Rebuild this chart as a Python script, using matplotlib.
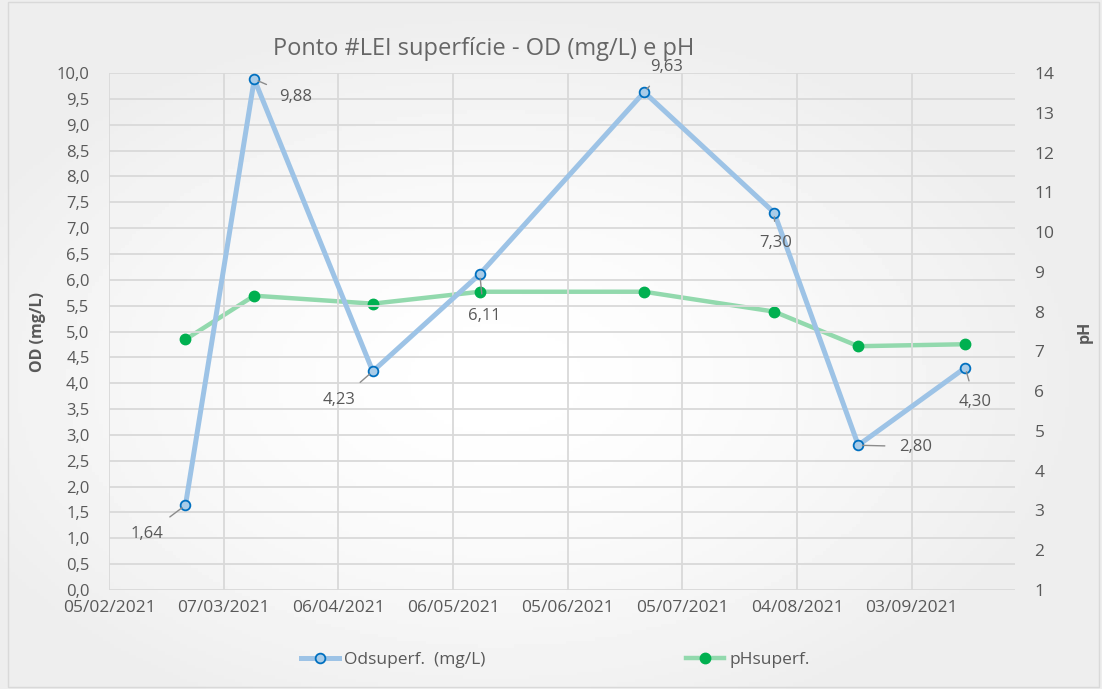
import numpy as np
import pandas as pd
import matplotlib
matplotlib.use('Agg')
import matplotlib.pyplot as plt
import matplotlib.dates as mdates
from matplotlib.lines import Line2D
from matplotlib.patches import Rectangle
from matplotlib.ticker import FixedLocator, FuncFormatter

plt.rcParams['font.family'] = ['Open Sans', 'DejaVu Sans']

# Data
dates = pd.to_datetime(['2021-02-25', '2021-03-15', '2021-04-15', '2021-05-13',
                        '2021-06-25', '2021-07-29', '2021-08-20', '2021-09-17'])
od = [1.64, 9.88, 4.23, 6.11, 9.63, 7.30, 2.80, 4.30]
ph = [7.3, 8.4, 8.2, 8.5, 8.5, 8.0, 7.13, 7.18]
od_labels = ['1,64', '9,88', '4,23', '6,11', '9,63', '7,30', '2,80', '4,30']
# label offsets in points (dx, dy)
lab_off = [(-28, -21), (30, -13), (-24, -21), (3, -30), (16, 18), (1, -22), (41, -1), (7, -25)]
tick_dates = pd.date_range('2021-02-05', periods=8, freq='30D')

gray = '#595959'
od_color = '#9dc3e6'
ph_color = '#92d9ad'

fig = plt.figure(figsize=(11.02, 6.89), dpi=100)

# background gradient
bg = fig.add_axes([0, 0, 1, 1], zorder=-2)
yy, xx = np.mgrid[0:1:200j, 0:1:300j]
r = np.sqrt(((xx - 0.45) / 0.9) ** 2 + ((yy - 0.55) / 0.9) ** 2)
grad = 1 - 0.07 * np.clip(r / 0.6, 0, 1) ** 1.5
bg.imshow(grad, cmap='gray', vmin=0, vmax=1, aspect='auto', extent=[0, 1, 0, 1])
bg.axis('off')
fig.patches.append(Rectangle((0.007, 0.003), 0.99, 0.994, transform=fig.transFigure,
                             fill=False, edgecolor='#d9d9d9', linewidth=1))

ax = fig.add_axes([109/1102, 1 - 590/689, (1015-109)/1102, (590-73)/689])
ax.set_facecolor('none')
ax2 = ax.twinx()

ax.plot(dates, od, color=od_color, lw=3.6, marker='o', ms=7, mfc='#a9cce8',
        mec='#0070c0', mew=1.3, zorder=3)
ax2.plot(dates, ph, color=ph_color, lw=3.2, marker='o', ms=7.5, mfc='#00b050',
         mec='#00b050', zorder=2)
ax.set_zorder(ax2.get_zorder() + 1)
ax.patch.set_visible(False)

for d, v, t, (dx, dy) in zip(dates, od, od_labels, lab_off):
    ax.annotate(t, xy=(d, v), xytext=(dx, dy), textcoords='offset points',
                ha='center', va='center', fontsize=12, color=gray,
                arrowprops=dict(arrowstyle='-', color='#8c8c8c', lw=1,
                                shrinkA=8, shrinkB=3))

ax.set_xlim(pd.Timestamp('2021-02-05'), pd.Timestamp('2021-09-30'))
ax.set_ylim(0, 10)
ax.yaxis.set_major_locator(FixedLocator(np.arange(0, 10.01, 0.5)))
ax.yaxis.set_major_formatter(FuncFormatter(lambda v, p: f'{v:.1f}'.replace('.', ',')))
ax.set_xticks(tick_dates)
ax.xaxis.set_major_formatter(mdates.DateFormatter('%d/%m/%Y'))
ax.grid(True, color='#d9d9d9', lw=1.3)
ax.tick_params(length=0, labelsize=12, colors=gray)
ax.tick_params(axis='y', pad=14)
ax.tick_params(axis='x', pad=7, labelsize=12.5)

ax2.set_ylim(1, 14)
ax2.set_yticks(range(1, 15))
ax2.tick_params(length=0, labelsize=12.5, colors=gray, pad=14)

for a in (ax, ax2):
    for s in a.spines.values():
        s.set_visible(False)

ax.set_ylabel('OD (mg/L)', fontsize=11.5, fontweight='bold', color=gray, labelpad=8)
ax2.set_ylabel('pH', fontsize=11.5, fontweight='bold', color=gray, rotation=90, labelpad=16)

fig.text(484/1102, 1 - 49/689, 'Ponto #LEI superfície - OD (mg/L) e pH', ha='center',
         va='center', fontsize=17, color='#666666')

h1 = Line2D([], [], color=od_color, lw=3.6, marker='o', ms=7, mfc='#a9cce8',
            mec='#0070c0', mew=1.3)
h2 = Line2D([], [], color=ph_color, lw=3.2, marker='o', ms=7.5, mfc='#00b050', mec='#00b050')
leg1 = fig.legend([h1], ['Odsuperf.  (mg/L)'], loc='center left',
                  bbox_to_anchor=(285/1102, 1 - 660/689), frameon=False, fontsize=12.5,
                  handlelength=2.2, handletextpad=0.3, labelcolor=gray)
leg2 = fig.legend([h2], ['pHsuperf.'], loc='center left',
                  bbox_to_anchor=(670/1102, 1 - 660/689), frameon=False, fontsize=12.5,
                  handlelength=2.2, handletextpad=0.3, labelcolor=gray)

fig.savefig('out.png', dpi=100)
